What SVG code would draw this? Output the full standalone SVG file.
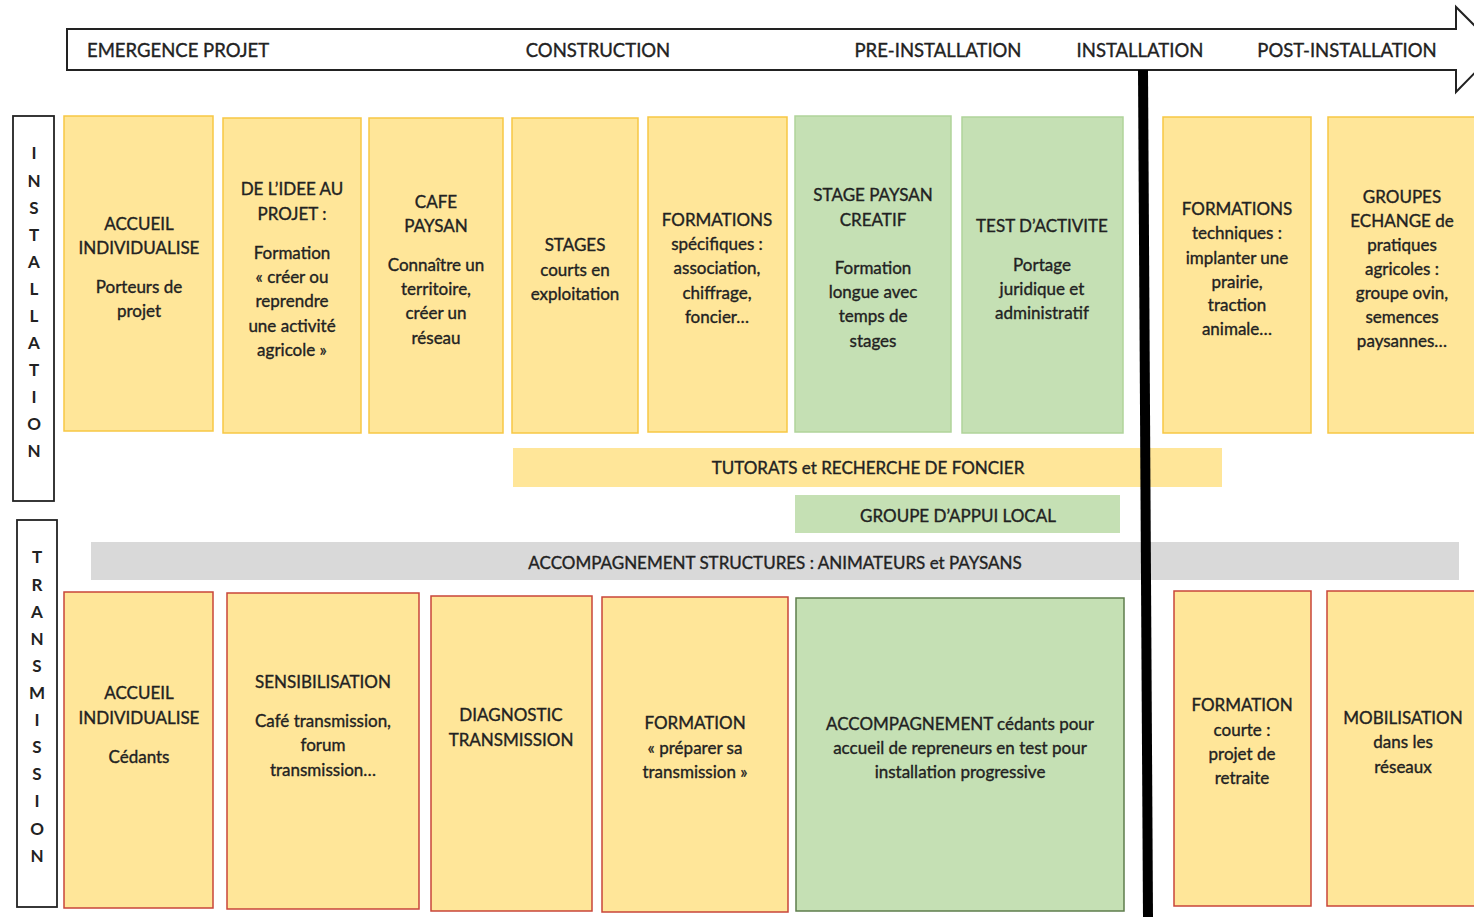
<svg xmlns="http://www.w3.org/2000/svg" width="1474" height="917" viewBox="0 0 1474 917">
<style>
text{font-family:Lato,"Open Sans","Liberation Sans",sans-serif;fill:#222;stroke:#222;stroke-width:0.35;text-anchor:middle}
.h{font-size:18.5px}
.t{font-size:17px}
.s{font-size:17px;font-weight:bold;stroke-width:0}
.y{fill:#FFE699;stroke:#F7C744;stroke-width:1.5}
.g{fill:#C5E0B4;stroke:#B0D49A;stroke-width:1.5}
.yr{fill:#FFE699;stroke:#C9453A;stroke-width:1.5}
.gd{fill:#C5E0B4;stroke:#5E7D4C;stroke-width:1.5}
.side{fill:#fff;stroke:#222;stroke-width:1.8}
</style>
<rect width="1474" height="917" fill="#fff"/>
<g id="timeline">
<path d="M67,29 H1456 V7 L1498,49 L1456,92 V70 H67 Z" fill="#fff" stroke="#222" stroke-width="2"/>
<text class="h" x="87" y="57" style="text-anchor:start">EMERGENCE PROJET</text>
<text class="h" x="598" y="57">CONSTRUCTION</text>
<text class="h" x="938" y="57">PRE-INSTALLATION</text>
<text class="h" x="1140" y="57">INSTALLATION</text>
<text class="h" x="1347" y="57">POST-INSTALLATION</text>
</g>
<g id="label-installation">
<rect class="side" x="13" y="116" width="41" height="385"/>
<text class="s" x="34"><tspan x="34" y="159">I</tspan><tspan x="34" y="187">N</tspan><tspan x="34" y="214">S</tspan><tspan x="34" y="241">T</tspan><tspan x="34" y="268">A</tspan><tspan x="34" y="295">L</tspan><tspan x="34" y="322">L</tspan><tspan x="34" y="349">A</tspan><tspan x="34" y="376">T</tspan><tspan x="34" y="403">I</tspan><tspan x="34" y="430">O</tspan><tspan x="34" y="457">N</tspan></text>
</g>
<g id="label-transmission">
<rect class="side" x="17" y="520" width="40" height="387"/>
<text class="s" x="37"><tspan x="37" y="563">T</tspan><tspan x="37" y="591">R</tspan><tspan x="37" y="618">A</tspan><tspan x="37" y="645">N</tspan><tspan x="37" y="672">S</tspan><tspan x="37" y="699">M</tspan><tspan x="37" y="726">I</tspan><tspan x="37" y="753">S</tspan><tspan x="37" y="780">S</tspan><tspan x="37" y="807">I</tspan><tspan x="37" y="835">O</tspan><tspan x="37" y="862">N</tspan></text>
</g>
<g id="i1"><rect class="y" x="64" y="116" width="149" height="315"/>
<text class="t"><tspan x="139" y="230">ACCUEIL</tspan><tspan x="139" y="254">INDIVIDUALISE</tspan><tspan x="139" y="293">Porteurs de</tspan><tspan x="139" y="317">projet</tspan></text></g>
<g id="i2"><rect class="y" x="223" y="118" width="138" height="315"/>
<text class="t"><tspan x="292" y="195">DE L’IDEE AU</tspan><tspan x="292" y="220">PROJET :</tspan><tspan x="292" y="259">Formation</tspan><tspan x="292" y="283">« créer ou</tspan><tspan x="292" y="307">reprendre</tspan><tspan x="292" y="332">une activité</tspan><tspan x="292" y="356">agricole »</tspan></text></g>
<g id="i3"><rect class="y" x="369" y="118" width="134" height="315"/>
<text class="t"><tspan x="436" y="208">CAFE</tspan><tspan x="436" y="232">PAYSAN</tspan><tspan x="436" y="271">Connaître un</tspan><tspan x="436" y="295">territoire,</tspan><tspan x="436" y="319">créer un</tspan><tspan x="436" y="344">réseau</tspan></text></g>
<g id="i4"><rect class="y" x="512" y="118" width="126" height="315"/>
<text class="t"><tspan x="575" y="251">STAGES</tspan><tspan x="575" y="276">courts en</tspan><tspan x="575" y="300">exploitation</tspan></text></g>
<g id="i5"><rect class="y" x="648" y="117" width="139" height="315"/>
<text class="t"><tspan x="717" y="226">FORMATIONS</tspan><tspan x="717" y="250">spécifiques :</tspan><tspan x="717" y="274">association,</tspan><tspan x="717" y="299">chiffrage,</tspan><tspan x="717" y="323">foncier…</tspan></text></g>
<g id="i6"><rect class="g" x="795" y="116" width="156" height="316"/>
<text class="t"><tspan x="873" y="201">STAGE PAYSAN</tspan><tspan x="873" y="226">CREATIF</tspan><tspan x="873" y="274">Formation</tspan><tspan x="873" y="298">longue avec</tspan><tspan x="873" y="322">temps de</tspan><tspan x="873" y="347">stages</tspan></text></g>
<g id="i7"><rect class="g" x="962" y="117" width="161" height="316"/>
<text class="t"><tspan x="1042" y="232">TEST D’ACTIVITE</tspan><tspan x="1042" y="271">Portage</tspan><tspan x="1042" y="295">juridique et</tspan><tspan x="1042" y="319">administratif</tspan></text></g>
<g id="i8"><rect class="y" x="1163" y="117" width="148" height="316"/>
<text class="t"><tspan x="1237" y="215">FORMATIONS</tspan><tspan x="1237" y="239">techniques :</tspan><tspan x="1237" y="264">implanter une</tspan><tspan x="1237" y="288">prairie,</tspan><tspan x="1237" y="311">traction</tspan><tspan x="1237" y="335">animale…</tspan></text></g>
<g id="i9"><rect class="y" x="1328" y="117" width="150" height="316"/>
<text class="t"><tspan x="1402" y="203">GROUPES</tspan><tspan x="1402" y="227">ECHANGE de</tspan><tspan x="1402" y="251">pratiques</tspan><tspan x="1402" y="275">agricoles :</tspan><tspan x="1402" y="299">groupe ovin,</tspan><tspan x="1402" y="323">semences</tspan><tspan x="1402" y="347">paysannes…</tspan></text></g>
<g id="bar-tutorats"><rect x="513" y="448" width="709" height="39" fill="#FFE699"/>
<text class="t" x="868" y="474">TUTORATS et RECHERCHE DE FONCIER</text></g>
<g id="bar-appui"><rect x="795" y="495" width="325" height="38" fill="#C5E0B4"/>
<text class="t" x="958" y="522">GROUPE D’APPUI LOCAL</text></g>
<g id="bar-accompagnement"><rect x="91" y="542" width="1368" height="38" fill="#D9D9D9"/>
<text class="t" x="775" y="569">ACCOMPAGNEMENT STRUCTURES : ANIMATEURS et PAYSANS</text></g>
<g id="t1"><rect class="yr" x="64" y="592" width="149" height="316"/>
<text class="t"><tspan x="139" y="699">ACCUEIL</tspan><tspan x="139" y="724">INDIVIDUALISE</tspan><tspan x="139" y="763">Cédants</tspan></text></g>
<g id="t2"><rect class="yr" x="227" y="593" width="192" height="316"/>
<text class="t"><tspan x="323" y="688">SENSIBILISATION</tspan><tspan x="323" y="727">Café transmission,</tspan><tspan x="323" y="751">forum</tspan><tspan x="323" y="776">transmission…</tspan></text></g>
<g id="t3"><rect class="yr" x="431" y="596" width="161" height="315"/>
<text class="t"><tspan x="511" y="721">DIAGNOSTIC</tspan><tspan x="511" y="746">TRANSMISSION</tspan></text></g>
<g id="t4"><rect class="yr" x="602" y="597" width="186" height="315"/>
<text class="t"><tspan x="695" y="729">FORMATION</tspan><tspan x="695" y="754">« préparer sa</tspan><tspan x="695" y="778">transmission »</tspan></text></g>
<g id="t5"><rect class="gd" x="796" y="598" width="328" height="313"/>
<text class="t"><tspan x="960" y="730">ACCOMPAGNEMENT cédants pour</tspan><tspan x="960" y="754">accueil de repreneurs en test pour</tspan><tspan x="960" y="778">installation progressive</tspan></text></g>
<g id="t6"><rect class="yr" x="1174" y="591" width="137" height="315"/>
<text class="t"><tspan x="1242" y="711">FORMATION</tspan><tspan x="1242" y="736">courte :</tspan><tspan x="1242" y="760">projet de</tspan><tspan x="1242" y="784">retraite</tspan></text></g>
<g id="t7"><rect class="yr" x="1327" y="591" width="151" height="315"/>
<text class="t"><tspan x="1403" y="724">MOBILISATION</tspan><tspan x="1403" y="748">dans les</tspan><tspan x="1403" y="773">réseaux</tspan></text></g>
<g id="connectors">
<line x1="1143" y1="70" x2="1148" y2="917" stroke="#000" stroke-width="10"/>
</g>
</svg>
